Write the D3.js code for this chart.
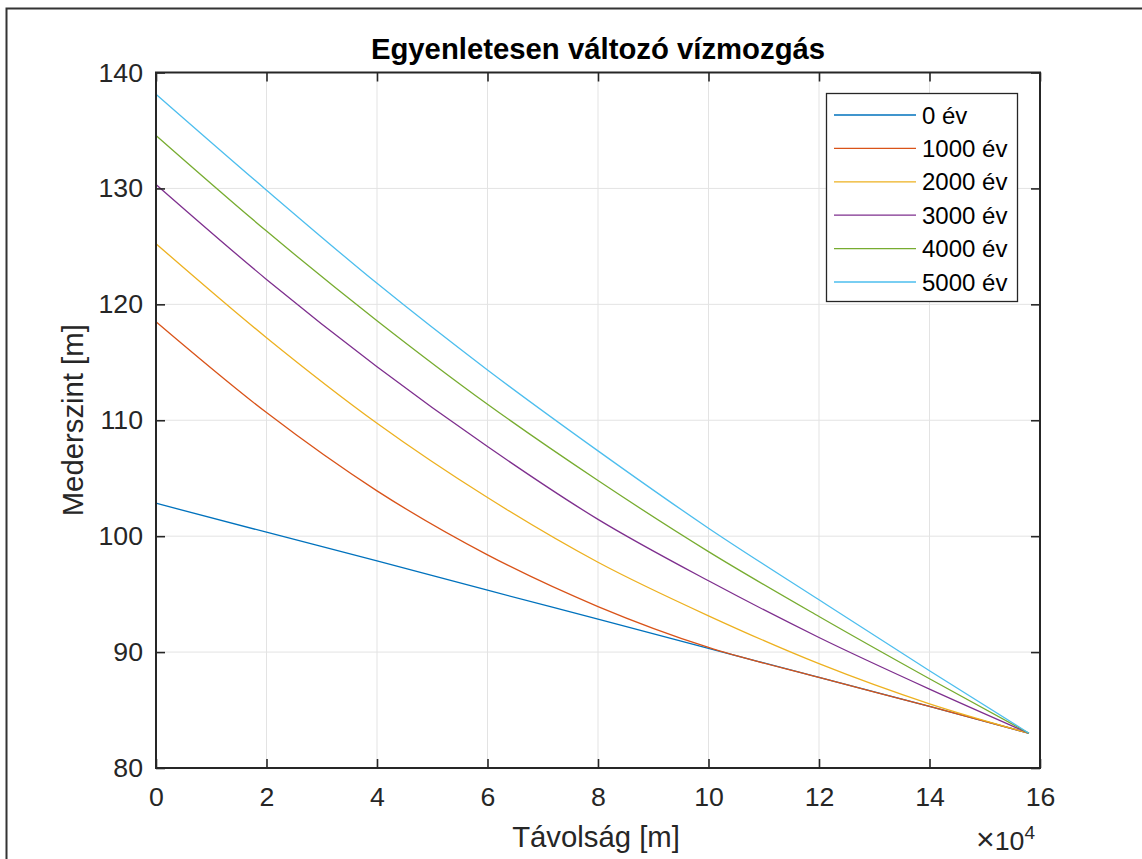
<!DOCTYPE html>
<html>
<head>
<meta charset="utf-8">
<script src="https://cdn.jsdelivr.net/npm/d3@7"></script>
<style>
    body { margin: 0; background: #fff; }
    svg { display: block; font-family: Arial, "Liberation Sans", Helvetica, sans-serif; }
</style>
</head>
<body>
<div class="svg-container"></div>
<script>
// distance along the river [m]
const distance = [0, 20000, 40000, 60000, 80000, 100000, 120000, 140000, 158000];

// bed level [m] for each time step, read at the distances above
const level_0 = [102.84, 100.34, 97.87, 95.34, 92.84, 90.33, 87.81, 85.31, 83.0];
const level_1000 = [118.5, 110.66, 103.91, 98.39, 93.93, 90.4, 87.81, 85.31, 83.0];
const level_2000 = [125.23, 117.12, 109.74, 103.33, 97.75, 93.13, 89.0, 85.54, 83.0];
const level_3000 = [130.34, 122.15, 114.62, 107.73, 101.45, 96.15, 91.26, 86.81, 83.0];
const level_4000 = [134.57, 126.32, 118.59, 111.38, 104.8, 98.67, 93.07, 87.7, 83.0];
const level_5000 = [138.13, 129.85, 121.81, 114.34, 107.36, 100.69, 94.51, 88.39, 83.0];

const series_names = ['0 év', '1000 év', '2000 év', '3000 év', '4000 év', '5000 év'];
const series_values = [level_0, level_1000, level_2000, level_3000, level_4000, level_5000];
const series_colors = ['#0072BD', '#D95319', '#EDB120', '#7E2F8E', '#77AC30', '#4DBEEE'];

const x_ticks = [0, 20000, 40000, 60000, 80000, 100000, 120000, 140000, 160000];
const y_ticks = [80, 90, 100, 110, 120, 130, 140];

var width_total = 1142,
    height_total = 859,
    box = {left: 156, top: 72.5, right: 1040, bottom: 768},
    tick_len = 9,
    axis_color = '#262626',
    tick_font = 26.7,
    label_font = 29.3,
    legend_font = 24;

var svg = d3.select('.svg-container')
    .append('svg')
    .attr('width', width_total)
    .attr('height', height_total);

// figure frame (only the left and top edges are in view)
svg.append('path')
    .attr('d', `M6.5,${height_total} V8.5 H${width_total}`)
    .attr('fill', 'none')
    .attr('stroke', '#333')
    .attr('stroke-width', 2);

var xScale = d3.scaleLinear().domain([0, 160000]).range([box.left, box.right]),
    yScale = d3.scaleLinear().domain([80, 140]).range([box.bottom, box.top]);

// grid
svg.append('g').attr('class', 'grid-x')
    .selectAll('line').data(x_ticks.slice(1, -1)).enter().append('line')
    .attr('x1', d => xScale(d)).attr('x2', d => xScale(d))
    .attr('y1', box.top).attr('y2', box.bottom)
    .attr('stroke', '#e3e3e3').attr('stroke-width', 1);
svg.append('g').attr('class', 'grid-y')
    .selectAll('line').data(y_ticks.slice(1, -1)).enter().append('line')
    .attr('x1', box.left).attr('x2', box.right)
    .attr('y1', d => yScale(d)).attr('y2', d => yScale(d))
    .attr('stroke', '#e3e3e3').attr('stroke-width', 1);

// lines
var line = d3.line()
    .x(d => xScale(d[0]))
    .y(d => yScale(d[1]))
    .curve(d3.curveMonotoneX);

svg.append('g').attr('class', 'series')
    .selectAll('path')
    .data(series_values).enter().append('path')
    .attr('d', vals => line(vals.map((v, i) => [distance[i], v])))
    .attr('fill', 'none')
    .attr('stroke', (d, i) => series_colors[i])
    .attr('stroke-width', 1.3);

// axes: ticks point inward, on all four sides (matlab box on)
function styleAxis(g) {
    g.select('.domain').remove();
    g.selectAll('.tick line').attr('stroke', axis_color).attr('stroke-width', 1.6);
    g.selectAll('.tick text')
        .attr('fill', axis_color)
        .style('font-size', tick_font + 'px')
        .style('font-family', 'Arial, "Liberation Sans", sans-serif');
}

svg.append('g')
    .attr('class', 'x-axis')
    .attr('transform', `translate(0,${box.bottom})`)
    .call(d3.axisBottom(xScale).tickValues(x_ticks).tickSizeInner(-tick_len).tickSizeOuter(0)
        .tickPadding(19).tickFormat(d => d / 10000))
    .call(styleAxis);

svg.append('g')
    .attr('class', 'x-axis-top')
    .attr('transform', `translate(0,${box.top})`)
    .call(d3.axisTop(xScale).tickValues(x_ticks).tickSizeInner(-tick_len).tickSizeOuter(0).tickFormat(''))
    .call(styleAxis);

svg.append('g')
    .attr('class', 'y-axis')
    .attr('transform', `translate(${box.left},0)`)
    .call(d3.axisLeft(yScale).tickValues(y_ticks).tickSizeInner(-tick_len).tickSizeOuter(0).tickPadding(13))
    .call(styleAxis);

svg.append('g')
    .attr('class', 'y-axis-right')
    .attr('transform', `translate(${box.right},0)`)
    .call(d3.axisRight(yScale).tickValues(y_ticks).tickSizeInner(-tick_len).tickSizeOuter(0).tickFormat(''))
    .call(styleAxis);

// box
svg.append('rect')
    .attr('x', box.left).attr('y', box.top)
    .attr('width', box.right - box.left).attr('height', box.bottom - box.top)
    .attr('fill', 'none')
    .attr('stroke', axis_color)
    .attr('stroke-width', 2);

// title and labels
svg.append('text')
    .attr('x', (box.left + box.right) / 2).attr('y', 59)
    .attr('text-anchor', 'middle')
    .style('font-size', label_font + 'px').style('font-weight', 'bold')
    .attr('fill', '#000')
    .text('Egyenletesen változó vízmozgás');

svg.append('text')
    .attr('x', (box.left + box.right) / 2 - 2).attr('y', 847)
    .attr('text-anchor', 'middle')
    .style('font-size', label_font + 'px')
    .attr('fill', axis_color)
    .text('Távolság [m]');

svg.append('text')
    .attr('transform', `translate(83,${(box.top + box.bottom) / 2}) rotate(-90)`)
    .attr('text-anchor', 'middle')
    .style('font-size', label_font + 'px')
    .attr('fill', axis_color)
    .text('Mederszint [m]');

// exponent of the x axis
var expo = svg.append('text')
    .attr('x', 976).attr('y', 850)
    .style('font-size', tick_font + 'px')
    .attr('fill', axis_color);
expo.append('tspan').style('font-size', '32px').style('font-weight', '300').text('×');
expo.append('tspan').text('10');
expo.append('tspan').attr('dy', -11).style('font-size', '19px').text('4');

// legend
var legend = svg.append('g').attr('class', 'legend');
legend.append('rect')
    .attr('x', 826.5).attr('y', 93.5)
    .attr('width', 191).attr('height', 208)
    .attr('fill', '#fff')
    .attr('stroke', axis_color)
    .attr('stroke-width', 1.3);

var rowScale = d3.scalePoint().domain(series_names).range([115, 282]);

var rows = legend.selectAll('.legend-row')
    .data(series_names).enter().append('g')
    .attr('class', 'legend-row')
    .attr('transform', d => `translate(0,${rowScale(d)})`);
rows.append('line')
    .attr('x1', 834).attr('x2', 916)
    .attr('stroke', (d, i) => series_colors[i])
    .attr('stroke-width', 1.3);
rows.append('text')
    .attr('x', 922).attr('y', 0)
    .attr('dy', '0.36em')
    .style('font-size', legend_font + 'px')
    .attr('fill', '#000')
    .text(d => d);
</script>
</body>
</html>
